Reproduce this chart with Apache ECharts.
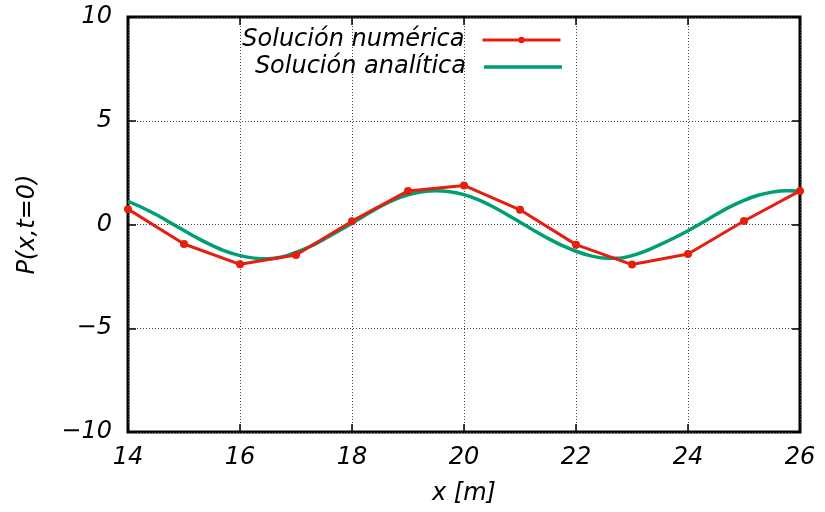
<!DOCTYPE html>
<html>
<head>
<meta charset="utf-8">
<script src="https://cdn.jsdelivr.net/npm/echarts@6/dist/echarts.min.js"></script>
<style>
  html, body { margin: 0; padding: 0; background: #fff; }
  #chart { width: 825px; height: 512px; }
</style>
</head>
<body>
<div id="chart"></div>
<script>
// Numerical solution, sampled at integer positions
const numX = [14, 15, 16, 17, 18, 19, 20, 21, 22, 23, 24, 25, 26];
const numP = [0.74, -0.94, -1.92, -1.47, 0.16, 1.62, 1.88, 0.71, -0.97, -1.93, -1.42, 0.17, 1.62];

// Analytical solution, sampled every quarter metre
const anaX = [14, 14.25, 14.5, 14.75, 15, 15.25, 15.5, 15.75, 16, 16.25, 16.5, 16.75,
              17, 17.25, 17.5, 17.75, 18, 18.25, 18.5, 18.75, 19, 19.25, 19.5, 19.75,
              20, 20.25, 20.5, 20.75, 21, 21.25, 21.5, 21.75, 22, 22.25, 22.5, 22.75,
              23, 23.25, 23.5, 23.75, 24, 24.25, 24.5, 24.75, 25, 25.25, 25.5, 25.75, 26];
const anaP = [1.12, 0.82, 0.48, 0.10, -0.29, -0.67, -1.01, -1.30, -1.50, -1.62, -1.65, -1.56,
              -1.34, -1.06, -0.71, -0.33, 0.06, 0.47, 0.86, 1.19, 1.43, 1.58, 1.63, 1.58,
              1.44, 1.20, 0.88, 0.51, 0.11, -0.29, -0.67, -1.01, -1.29, -1.50, -1.62, -1.63,
              -1.50, -1.27, -0.97, -0.65, -0.30, 0.08, 0.48, 0.85, 1.16, 1.41, 1.56, 1.63, 1.62];

const xTicks = [14, 16, 18, 20, 22, 24, 26];
const yTicks = [-10, -5, 0, 5, 10];

const seriesNames = ['Solución numérica', 'Solución analítica'];

const FONT = '"DejaVu Sans", "Liberation Sans", Arial, sans-serif';
const labelStyle = { fontFamily: FONT, fontStyle: 'italic', fontSize: 24, color: '#000' };
const red = '#e51e10';
const green = '#009e73';

const chart = echarts.init(document.getElementById('chart'), null, { renderer: 'canvas' });

const gridLine = { show: true, lineStyle: { color: '#444', width: 1, type: [1, 2] } };
const tickStyle = { show: true, inside: true, length: 8, lineStyle: { color: '#000', width: 1.5 } };

chart.setOption({
  animation: false,
  backgroundColor: '#fff',
  grid: {
    left: 128, right: 25, top: 17, bottom: 80,
    show: true, borderColor: '#000', borderWidth: 3, backgroundColor: 'transparent'
  },
  legend: [
    {
      data: [seriesNames[0]],
      right: 263, top: 28, align: 'right', padding: 0,
      itemWidth: 78, itemHeight: 8, itemGap: 0,
      lineStyle: { width: 3 },
      textStyle: Object.assign({}, labelStyle, { padding: [0, 13, 0, 0] })
    },
    {
      data: [{ name: seriesNames[1], icon: 'rect' }],
      right: 263, top: 55, align: 'right', padding: 0,
      itemWidth: 78, itemHeight: 3.5, itemGap: 0,
      textStyle: Object.assign({}, labelStyle, { padding: [0, 13, 0, 0] })
    }
  ],
  xAxis: [
    {
      type: 'value', min: xTicks[0], max: xTicks[xTicks.length - 1], interval: 2,
      axisLine: { show: false, onZero: false },
      axisTick: tickStyle,
      axisLabel: Object.assign({ margin: 14 }, labelStyle),
      splitLine: gridLine,
      name: 'x [m]', nameLocation: 'middle', nameGap: 50,
      nameTextStyle: labelStyle
    },
    {
      type: 'value', position: 'top', min: xTicks[0], max: xTicks[xTicks.length - 1], interval: 2,
      axisLine: { show: false, onZero: false },
      axisTick: tickStyle,
      axisLabel: { show: false }, splitLine: { show: false }
    }
  ],
  yAxis: [
    {
      type: 'value', min: yTicks[0], max: yTicks[yTicks.length - 1], interval: 5,
      axisLine: { show: false, onZero: false },
      axisTick: tickStyle,
      axisLabel: Object.assign({
        margin: 16,
        formatter: v => (v < 0 ? '\u2212' + Math.abs(v) : String(v))
      }, labelStyle),
      splitLine: gridLine,
      name: 'P(x,t=0)', nameLocation: 'middle', nameGap: 88,
      nameTextStyle: labelStyle
    },
    {
      type: 'value', position: 'right', min: yTicks[0], max: yTicks[yTicks.length - 1], interval: 5,
      axisLine: { show: false, onZero: false },
      axisTick: tickStyle,
      axisLabel: { show: false }, splitLine: { show: false }
    }
  ],
  series: [
    {
      name: seriesNames[1],
      type: 'line',
      data: anaX.map((x, i) => [x, anaP[i]]),
      smooth: 0.3,
      showSymbol: false,
      symbol: 'none',
      lineStyle: { color: green, width: 3.5 },
      itemStyle: { color: green },
      z: 3
    },
    {
      name: seriesNames[0],
      type: 'line',
      data: numX.map((x, i) => [x, numP[i]]),
      symbol: 'circle',
      symbolSize: 8,
      clip: false,
      lineStyle: { color: red, width: 3 },
      itemStyle: { color: red },
      z: 4
    }
  ]
});
</script>
</body>
</html>
